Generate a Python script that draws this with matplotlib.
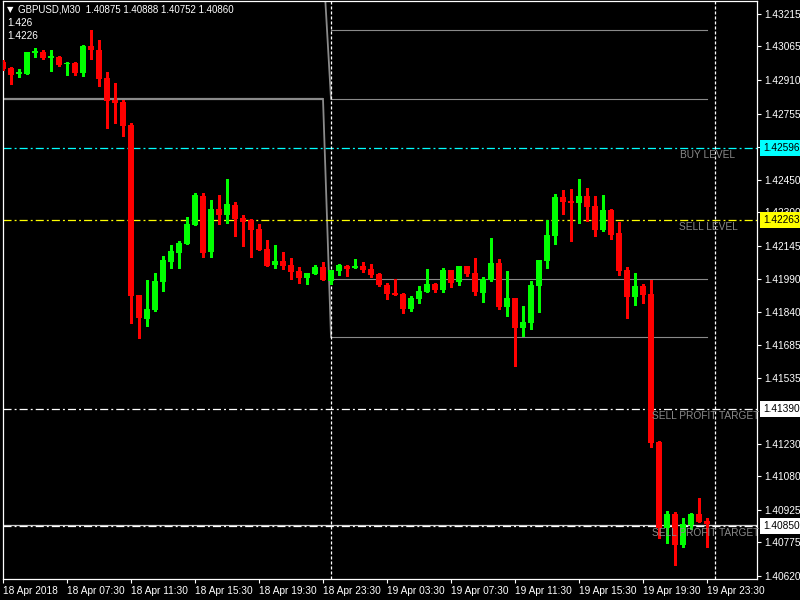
import matplotlib
matplotlib.use("Agg")
import matplotlib.pyplot as plt
import numpy as np

plt.rcParams['font.family'] = ['Liberation Sans', 'DejaVu Sans']
plt.rcParams['lines.scale_dashes'] = False

# ---- data -------------------------------------------------------------
symbol = "GBPUSD,M30"

opens = [1.42993, 1.42966, 1.42940, 1.42938, 1.43037, 1.43040, 1.43013, 1.43016, 1.42984, 1.42990,
         1.42943, 1.43067, 1.43049, 1.42920, 1.42818, 1.42809, 1.42703, 1.41918, 1.41807, 1.41848,
         1.41979, 1.42071, 1.42113, 1.42154, 1.42242, 1.42375, 1.42118, 1.42315, 1.42287, 1.42333,
         1.42273, 1.42264, 1.42222, 1.42130, 1.42056, 1.42075, 1.42056, 1.42028, 1.41996, 1.42015,
         1.42047, 1.41982, 1.42028, 1.42052, 1.42042, 1.42052, 1.42038, 1.42015, 1.41964, 1.41927,
         1.41922, 1.41853, 1.41899, 1.41931, 1.41968, 1.41941, 1.42033, 1.41978, 1.42052, 1.42019,
         1.41927, 1.41987, 1.42065, 1.41862, 1.41904, 1.41765, 1.41788, 1.41959, 1.42075, 1.42190,
         1.42370, 1.42352, 1.42342, 1.42375, 1.42329, 1.42218, 1.42310, 1.42204, 1.42033, 1.41908,
         1.41959, 1.41922, 1.41240, 1.40843, 1.40907, 1.40763, 1.40856, 1.40907, 1.40875]
highs = [1.43003, 1.42970, 1.42961, 1.43041, 1.43056, 1.43049, 1.43049, 1.43021, 1.42995, 1.42993,
         1.43072, 1.43141, 1.43095, 1.42949, 1.42896, 1.42818, 1.42712, 1.41918, 1.41987, 1.42020,
         1.42098, 1.42148, 1.42167, 1.42278, 1.42387, 1.42387, 1.42356, 1.42379, 1.42453, 1.42347,
         1.42287, 1.42269, 1.42245, 1.42172, 1.42148, 1.42116, 1.42090, 1.42047, 1.42019, 1.42056,
         1.42070, 1.42033, 1.42061, 1.42056, 1.42084, 1.42070, 1.42061, 1.42019, 1.41973, 1.41991,
         1.41927, 1.41913, 1.41959, 1.42038, 1.41973, 1.42042, 1.42033, 1.42052, 1.42052, 1.42088,
         1.42001, 1.42181, 1.42084, 1.42028, 1.41904, 1.41867, 1.41982, 1.42079, 1.42264, 1.42384,
         1.42402, 1.42407, 1.42453, 1.42412, 1.42375, 1.42379, 1.42315, 1.42255, 1.42047, 1.42019,
         1.41968, 1.41987, 1.41244, 1.40920, 1.40916, 1.40889, 1.40910, 1.40982, 1.40888]
lows = [1.42956, 1.42894, 1.42923, 1.42938, 1.43018, 1.43007, 1.42953, 1.42976, 1.42933, 1.42933,
        1.42929, 1.43007, 1.42884, 1.42690, 1.42713, 1.42653, 1.41790, 1.41720, 1.41776, 1.41845,
        1.41937, 1.42044, 1.42044, 1.42154, 1.42242, 1.42094, 1.42094, 1.42247, 1.42251, 1.42190,
        1.42144, 1.42094, 1.42125, 1.42052, 1.42044, 1.42038, 1.41991, 1.41973, 1.41968, 1.42015,
        1.41987, 1.41968, 1.42010, 1.42005, 1.42042, 1.42024, 1.42001, 1.41959, 1.41899, 1.41918,
        1.41834, 1.41844, 1.41881, 1.41931, 1.41931, 1.41931, 1.41954, 1.41964, 1.42005, 1.41918,
        1.41885, 1.41982, 1.41853, 1.41821, 1.41590, 1.41728, 1.41761, 1.41839, 1.42042, 1.42153,
        1.42292, 1.42167, 1.42251, 1.42259, 1.42190, 1.42213, 1.42176, 1.42010, 1.41811, 1.41871,
        1.41881, 1.41217, 1.40794, 1.40774, 1.40671, 1.40756, 1.40836, 1.40871, 1.40752]
closes = [1.42961, 1.42935, 1.42943, 1.43040, 1.43043, 1.43013, 1.43021, 1.42981, 1.42991, 1.42943,
          1.43067, 1.43049, 1.42915, 1.42813, 1.42805, 1.42698, 1.41914, 1.41813, 1.41853, 1.41982,
          1.42079, 1.42121, 1.42158, 1.42245, 1.42379, 1.42113, 1.42315, 1.42287, 1.42338, 1.42269,
          1.42255, 1.42218, 1.42125, 1.42052, 1.42075, 1.42052, 1.42025, 1.41996, 1.42019, 1.42047,
          1.41987, 1.42033, 1.42056, 1.42038, 1.42052, 1.42033, 1.42010, 1.41964, 1.41922, 1.41918,
          1.41853, 1.41904, 1.41936, 1.41968, 1.41941, 1.42033, 1.41973, 1.42052, 1.42015, 1.41931,
          1.41991, 1.42065, 1.41862, 1.41904, 1.41765, 1.41793, 1.41964, 1.42079, 1.42195, 1.42370,
          1.42347, 1.42342, 1.42375, 1.42324, 1.42218, 1.42310, 1.42195, 1.42028, 1.41908, 1.41959,
          1.41918, 1.41236, 1.40843, 1.40907, 1.40763, 1.40860, 1.40907, 1.40871, 1.40860]

time_label_bars = [0, 8, 16, 24, 32, 40, 48, 56, 64, 72, 80, 88]
time_labels = ["18 Apr 2018", "18 Apr 07:30", "18 Apr 11:30", "18 Apr 15:30",
               "18 Apr 19:30", "18 Apr 23:30", "19 Apr 03:30", "19 Apr 07:30",
               "19 Apr 11:30", "19 Apr 15:30", "19 Apr 19:30", "19 Apr 23:30"]

price_ticks = [1.43215, 1.43065, 1.42910, 1.42755, 1.42600, 1.42450, 1.42300, 1.42145, 1.41990,
               1.41840, 1.41685, 1.41535, 1.41230, 1.41080, 1.40925, 1.40775, 1.40620]

buy_level = 1.42596
sell_level = 1.42263
sell_targets = [1.41390, 1.40850]
info_values = ["1.426", "1.4226"]

# previous-day reference levels
prev_level_left = 1.42823
day_levels_right = [1.43141, 1.42823, 1.41991, 1.41724]
connector_a = (1.43367, 1.42823)
connector_b = (1.42823, 1.41724)
day_separators = [41, 89]

# ---- figure -------------------------------------------------------------
W, H = 800, 600
fig = plt.figure(figsize=(8, 6), dpi=100, facecolor='black')
ax = fig.add_axes([2.5 / W, 21 / H, (757 - 2.5) / W, (599 - 21) / H])
ax.set_facecolor('black')

n = len(opens)
x = np.arange(n)
ax.set_xlim(-0.0625, 94.25)
ax.set_ylim(1.406064, 1.43275)

grey = '#8a8a8a'

# levels from the previous session
ax.plot([-0.0625, 40], [prev_level_left, prev_level_left], color=grey, lw=1.6,
        solid_capstyle='butt', zorder=1)
for lv in day_levels_right:
    ax.plot([41, 88], [lv, lv], color=grey, lw=0.8, zorder=1)
ax.plot([40.15, 41], connector_a, color=grey, lw=1.3, zorder=1)
ax.plot([40, 41], connector_b, color=grey, lw=1.3, zorder=1)

# bid line
ax.axhline(closes[-1] - 0.00004, color='#c8c8c8', lw=0.9, zorder=1)

# dash-dot trade levels
dashdot = (5.8, 2.2, 1.4, 2.2)
for lv, col in [(buy_level, '#00ffff'), (sell_level, '#ffff00'),
                (sell_targets[0], 'white'), (sell_targets[1], 'white')]:
    ax.axhline(lv, color=col, lw=0.9, dashes=dashdot, zorder=2)

# day separators
for s in day_separators:
    ax.axvline(s, color='white', lw=0.9, dashes=(2.2, 1.4), zorder=2)

# candles
up = np.array(closes) >= np.array(opens)
colors = np.where(up, '#00ff00', '#ff0000')
ax.vlines(x, lows, highs, colors=colors, lw=0.8, antialiased=False, zorder=3)
bottoms = np.minimum(opens, closes)
heights = np.maximum(np.abs(np.array(closes) - np.array(opens)), 0.00005)
ax.bar(x, heights, bottom=bottoms, width=0.7, color=colors, linewidth=0,
       antialiased=False, zorder=4)

# level captions
label_kw = dict(color=grey, fontsize=7.3, va='top', ha='left',
                textcoords='offset pixels', xytext=(0, -2), zorder=5, annotation_clip=False)
ax.annotate("BUY LEVEL", (84.6, buy_level), **label_kw)
ax.annotate("SELL LEVEL", (84.5, sell_level), **label_kw)
ax.annotate("SELL PROFIT TARGET", (81.1, sell_targets[0]), **label_kw)
ax.annotate("SELL PROFIT TARGET", (81.1, sell_targets[1]), **label_kw)

# axes styling
for side in ['left', 'right', 'top', 'bottom']:
    ax.spines[side].set_color('white')
    ax.spines[side].set_linewidth(0.9)
ax.yaxis.tick_right()
ax.set_yticks(price_ticks)
ax.set_yticklabels([f"{p:.5f}" for p in price_ticks])
ax.tick_params(axis='y', colors='white', labelsize=7.3, length=3, width=0.8, pad=2)
ax.set_xticks(time_label_bars)
ax.set_xticklabels(time_labels)
ax.tick_params(axis='x', colors='white', labelsize=7.3, length=3, width=0.8, pad=2)
for t in ax.get_xticklabels():
    t.set_ha('left')

# highlighted price boxes on the scale
for lv, col in [(buy_level, '#00ffff'), (sell_level, '#ffff00'),
                (sell_targets[0], 'white'), (sell_targets[1], 'white')]:
    ax.annotate(f"{lv:.5f}", (1.0, lv), xycoords=('axes fraction', 'data'),
                xytext=(6, 0), textcoords='offset pixels', va='center', ha='left',
                fontsize=7.3, color='black', annotation_clip=False, zorder=10,
                bbox=dict(boxstyle='square,pad=0.3', fc=col, ec='none'))

# header
fig.text(7 / W, 1 - 10 / H, "\u25bc", color='white', fontsize=6, va='center', ha='left',
         family=['DejaVu Sans'])
header = f"{symbol}  {opens[-1]:.5f} {highs[-1]:.5f} {lows[-1]:.5f} {closes[-1]:.5f}"
fig.text(18 / W, 1 - 10 / H, header, color='white', fontsize=7.0, va='center', ha='left')
for k, v in enumerate(info_values):
    fig.text(7 / W, 1 - (23 + 13 * k) / H, v, color='white', fontsize=7.3,
             va='center', ha='left')

fig.savefig("out.png", dpi=100, facecolor='black')
